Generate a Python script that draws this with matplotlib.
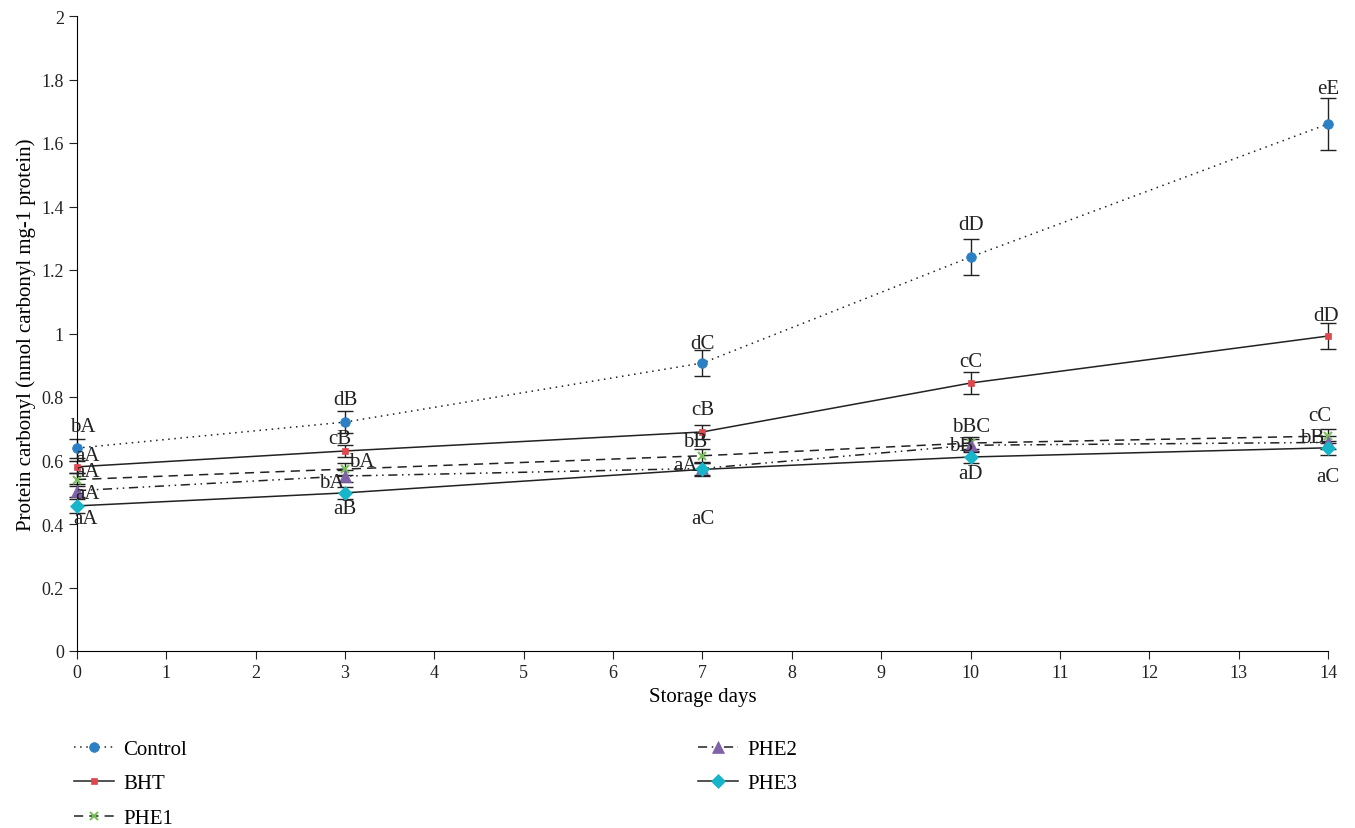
import matplotlib
matplotlib.use('Agg')
import matplotlib.pyplot as plt
import numpy as np

# ===== DATA =====
days = [0, 3, 7, 10, 14]
series = ["Control", "BHT", "PHE1", "PHE2", "PHE3"]
control = [0.639, 0.721, 0.907, 1.241, 1.660]
control_err = [0.030, 0.035, 0.042, 0.057, 0.082]
bht = [0.580, 0.630, 0.690, 0.844, 0.992]
bht_err = [0.020, 0.020, 0.022, 0.036, 0.040]
phe1 = [0.540, 0.573, 0.615, 0.655, 0.677]
phe1_err = [0.020, 0.020, 0.022, 0.020, 0.022]
phe2 = [0.505, 0.551, 0.575, 0.648, 0.657]
phe2_err = [0.020, 0.020, 0.020, 0.020, 0.020]
phe3 = [0.457, 0.498, 0.572, 0.611, 0.640]
phe3_err = [0.022, 0.020, 0.020, 0.020, 0.022]

control_lbl = ["bA", "dB", "dC", "dD", "eE"]
bht_lbl = ["aA", "cB", "cB", "cC", "dD"]
phe1_lbl = ["aA", "bA", "bB", "bBC", "cC"]
phe2_lbl = ["aA", "bA", "aA", "bB", "bB"]
phe3_lbl = ["aA", "aB", "aC", "aD", "aC"]

# label offsets (pixels, from point centre)
offs = {
    "Control": [(6, 22), (0, 23), (0, 20), (0, 32), (0, 35)],
    "BHT": [(10, 11), (-5, 12), (0, 22), (0, 22), (-2, 21)],
    "PHE1": [(10, 8), (17, 8), (-7, 14), (1, 17), (-8, 21)],
    "PHE2": [(10, -3), (-13, -6), (-17, 3), (-9, 0), (-16, 5)],
    "PHE3": [(8, -13), (0, -16), (0, -49), (0, -16), (0, -29)],
}

plt.rcParams['font.family'] = ['Liberation Serif', 'DejaVu Serif']

fig = plt.figure(figsize=(13.55, 8.29), dpi=100)
ax = fig.add_axes([77/1355, 1-652/829, (1328-77)/1355, (652-17)/829])

vals = [control, bht, phe1, phe2, phe3]
errs = [control_err, bht_err, phe1_err, phe2_err, phe3_err]
lbls = [control_lbl, bht_lbl, phe1_lbl, phe2_lbl, phe3_lbl]
mk = ['o', 's', 'x', '^', 'D']
ms = [7, 5, 6, 8, 7.5]
mc = ['#2b7fc4', '#e0474c', '#79c05a', '#8062a8', '#17b5c9']
ls = [(0, (1, 3)), '-', (0, (6, 4)), (0, (6, 3, 1, 3, 1, 3)), '-']

handles = []
for name, v, e, m, s, c, l in zip(series, vals, errs, mk, ms, mc, ls):
    eb = ax.errorbar(days, v, yerr=e, fmt='none', ecolor='#222222', elinewidth=1, capsize=6, capthick=1, zorder=2)
    for art in eb.lines[1] + eb.lines[2]:
        art.set_clip_on(False)
    h, = ax.plot(days, v, linestyle=l, color='#222222', lw=1.1, marker=m, markersize=s,
                 markerfacecolor=c, markeredgecolor=c, markeredgewidth=1.5 if m == 'x' else 0.5,
                 label=name, zorder=3, clip_on=False)
    handles.append(h)

px = 0.72
for name, v, lb in zip(series, vals, lbls):
    for d, y, t, (dx, dy) in zip(days, v, lb, offs[name]):
        ax.annotate(t, (d, y), xytext=(dx*px, dy*px), textcoords='offset points',
                    ha='center', va='center', fontsize=15, color='#222222', zorder=4)

ax.set_xlim(0, 14)
ax.set_ylim(0, 2)
ax.set_xticks(range(0, 15))
ax.set_yticks(np.arange(0, 2.01, 0.2))
ax.set_yticklabels([f'{t:g}' for t in np.arange(0, 2.01, 0.2).round(1)])
ax.tick_params(labelsize=13, direction='out', length=6, colors='#222222')
ax.spines['top'].set_visible(False)
ax.spines['right'].set_visible(False)
ax.set_xlabel('Storage days', fontsize=15)
ax.set_ylabel('Protein carbonyl (nmol carbonyl mg-1 protein)', fontsize=15)

fig.legend(handles=handles[:3], loc='upper left', bbox_to_anchor=(68/1355, 1-734/829),
           frameon=False, fontsize=15, handlelength=1.9, handletextpad=0.45, labelspacing=0.72,
           borderaxespad=0, borderpad=0.3)
fig.legend(handles=handles[3:], loc='upper left', bbox_to_anchor=(692/1355, 1-734/829),
           frameon=False, fontsize=15, handlelength=1.9, handletextpad=0.45, labelspacing=0.72,
           borderaxespad=0, borderpad=0.3)

plt.savefig('out.png', dpi=100)
plt.close()
